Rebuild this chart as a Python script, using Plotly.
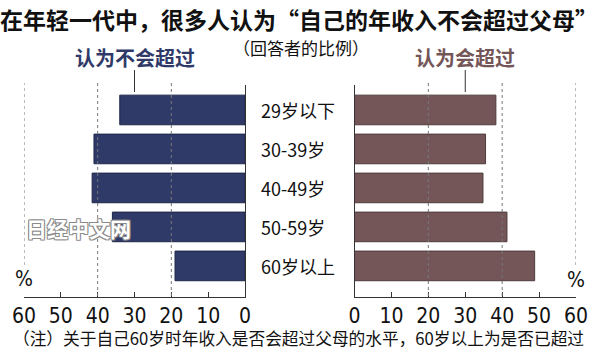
import plotly.graph_objects as go

categories = ["29岁以下", "30-39岁", "40-49岁", "50-59岁", "60岁以上"]
not_exceed = [34, 41, 41.5, 36, 19]
exceed = [38.3, 35.5, 34.8, 41.3, 48.8]
tick_vals = [0, 10, 20, 30, 40, 50, 60]
grid_vals = [20, 40, 60]

title = "在年轻一代中，很多人认为“自己的年收入不会超过父母”"
subtitle = "（回答者的比例）"
label_left = "认为不会超过"
label_right = "认为会超过"
footnote = "（注）关于自己60岁时年收入是否会超过父母的水平，60岁以上为是否已超过"
watermark = "日经中文网"

W, H = 600, 364
CJK = "Noto Sans CJK SC"
NARROW = "Liberation Sans Narrow, DejaVu Sans Condensed, Arial Narrow, sans-serif"
NAVY = "#2f3a68"
MAUVE = "#745658"


def py(p):
    return 1 - p / H


def px(p):
    return p / W


fig = go.Figure()
fig.add_trace(go.Bar(x=not_exceed, y=categories, orientation="h", width=0.76,
                     marker=dict(color=NAVY, line=dict(color="#1e2748", width=1)),
                     xaxis="x", yaxis="y", showlegend=False, hoverinfo="skip"))
fig.add_trace(go.Bar(x=exceed, y=categories, orientation="h", width=0.76,
                     marker=dict(color=MAUVE, line=dict(color="#4e3a3b", width=1)),
                     xaxis="x2", yaxis="y2", showlegend=False, hoverinfo="skip"))

ydom = [py(296.7), py(85)]
yrange = [4.79, -0.64]
axis_common = dict(showgrid=False, zeroline=False, showline=True, linecolor="#333",
                   linewidth=1, ticks="inside", ticklen=5, tickwidth=1, tickcolor="#333",
                   tickvals=tick_vals, ticktext=[str(v) for v in tick_vals],
                   tickfont=dict(family=NARROW, size=21, color="#111"), fixedrange=True,
                   automargin=False)
yaxis_common = dict(showgrid=False, zeroline=False, showline=True, linecolor="#333",
                    linewidth=1, showticklabels=False, ticks="", type="category",
                    range=yrange, domain=ydom, fixedrange=True, automargin=False)

fig.update_layout(
    width=W, height=H, margin=dict(l=0, r=0, t=0, b=0, pad=0, autoexpand=False),
    paper_bgcolor="white", plot_bgcolor="white",
    xaxis=dict(domain=[px(24), px(245)], range=[60, 0], anchor="y", **axis_common),
    yaxis=dict(anchor="x", side="right", **yaxis_common),
    xaxis2=dict(domain=[px(354.5), px(576)], range=[0, 60], anchor="y2", **axis_common),
    yaxis2=dict(anchor="x2", side="left", **yaxis_common),
)

shapes = []
for xr in ["x", "x2"]:
    for g in grid_vals:
        bottom = 265 if g == 60 else 296
        shapes.append(dict(type="line", xref=xr, yref="paper", x0=g, x1=g,
                           y0=py(bottom), y1=py(83), layer="above",
                           line=dict(color="#777", width=1, dash="dot")))
    shapes.append(dict(type="line", xref=xr, yref="paper", x0=30, x1=30,
                       y0=py(92), y1=py(70), line=dict(color="#333", width=1)))
fig.update_layout(shapes=shapes)

ann = []
ann.append(dict(text=title, x=px(299), y=py(19), xref="paper", yref="paper", showarrow=False,
                xanchor="center", yanchor="middle",
                font=dict(family=CJK, size=23, color="#111", weight="bold")))
ann.append(dict(text=subtitle, x=px(301), y=py(47.5), xref="paper", yref="paper", showarrow=False,
                xanchor="center", yanchor="middle", font=dict(family=CJK, size=17, color="#111")))
ann.append(dict(text=label_left, x=30, y=py(58), xref="x", yref="paper", showarrow=False,
                xanchor="center", yanchor="middle",
                font=dict(family=CJK, size=20, color=NAVY, weight="bold")))
ann.append(dict(text=label_right, x=30, y=py(58), xref="x2", yref="paper", showarrow=False,
                xanchor="center", yanchor="middle",
                font=dict(family=CJK, size=20, color=MAUVE, weight="bold")))
for c in categories:
    ann.append(dict(text=c, x=px(259), y=c, xref="paper", yref="y", showarrow=False,
                    xanchor="left", yanchor="middle",
                    font=dict(family=CJK, size=18, color="#111")))
ann.append(dict(text="%", x=px(24), y=py(279), xref="paper", yref="paper", showarrow=False,
                xanchor="center", yanchor="middle", font=dict(family=NARROW, size=21, color="#111")))
ann.append(dict(text="%", x=px(576), y=py(280), xref="paper", yref="paper", showarrow=False,
                xanchor="center", yanchor="middle", font=dict(family=NARROW, size=21, color="#111")))
ann.append(dict(text=footnote, x=px(298), y=py(338), xref="paper", yref="paper", showarrow=False,
                xanchor="center", yanchor="middle", font=dict(family=CJK, size=16.7, color="#111")))
ann.append(dict(text=watermark, x=px(78.5), y=py(228), xref="paper", yref="paper", showarrow=False,
                xanchor="center", yanchor="middle",
                font=dict(family=CJK, size=21, color="white", weight="bold",
                          shadow="1px 1px 0 #8a8a8a, -1px -1px 0 #8a8a8a, 1px -1px 0 #8a8a8a, -1px 1px 0 #8a8a8a")))
fig.update_layout(annotations=ann)

fig.write_html("out.html", config={"displayModeBar": False},
               post_script="document.body.style.margin='0';document.body.style.overflow='hidden';")
